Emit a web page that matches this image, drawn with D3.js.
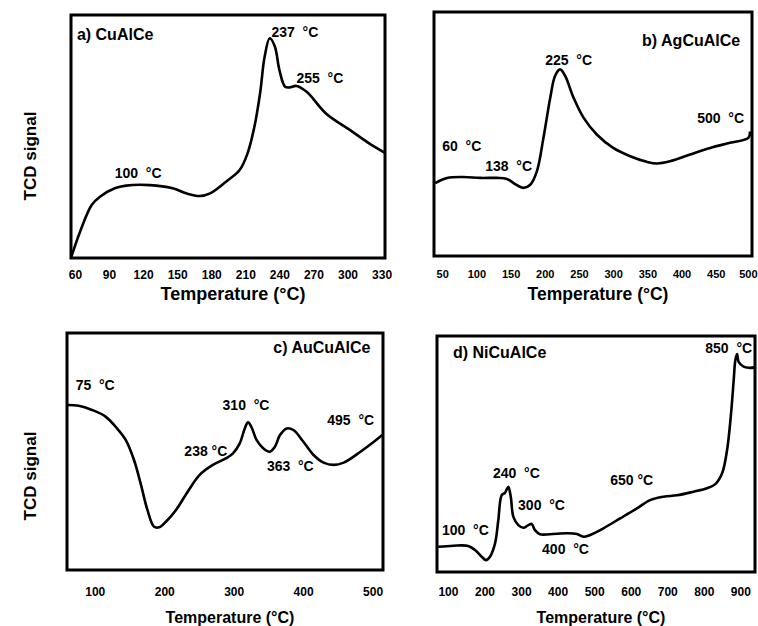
<!DOCTYPE html>
<html>
<head>
<meta charset="utf-8">
<script src="https://cdn.jsdelivr.net/npm/d3@7"></script>
<style>
  body { margin: 0; background: #fff; }
  svg text { font-family: "Liberation Sans", Arial, sans-serif; font-weight: bold; fill: #000; }
</style>
</head>
<body>
<div id="chart"></div>
<script>
// ---- data (temperature in °C, TCD signal in arbitrary units 0-100) ----
const aTemp = [56.5, 64.4, 74.7, 82, 95, 105, 126, 146, 158, 170, 179, 193, 205, 212, 218, 223, 227, 231.5, 236, 240, 245, 249, 255, 264, 281, 302, 319, 333];
const aSignal = [0, 10.7, 21.8, 25.2, 28.7, 29.8, 30.0, 28.7, 26.6, 25.5, 26.6, 31.4, 36.2, 43.1, 54.0, 67.8, 82.8, 90.4, 87.0, 77.4, 70.5, 70.2, 70.8, 68.4, 59.5, 52.7, 47.2, 43.3];
const aTicks = [60, 90, 120, 150, 180, 210, 240, 270, 300, 330];

const bTemp = [39.8, 57, 81, 105.6, 130, 144.6, 156.7, 168.9, 178.7, 188.4, 198, 208, 215, 222.5, 229.8, 242, 256.6, 276, 300, 324.9, 349, 364, 383, 412.6, 441.8, 471, 497.8, 500];
const bSignal = [29.9, 32.0, 32.4, 32.0, 32.0, 31.6, 29.5, 27.9, 29.2, 34.7, 48.4, 64.9, 73.8, 76.5, 73.8, 64.9, 56.7, 49.8, 44.3, 40.9, 38.6, 37.9, 38.8, 41.6, 44.3, 46.4, 48.4, 51];
const bTicks = [50, 100, 150, 200, 250, 300, 350, 400, 450, 500];

const cTemp = [60, 76.8, 96, 115.5, 132, 144.5, 156.5, 166, 175.8, 185.5, 192.8, 202.4, 217, 233.8, 250.7, 270, 289.4, 299, 308.7, 316, 320.7, 325.7, 332.9, 342.5, 352, 359.4, 366.7, 376.4, 386, 400.4, 415, 429.4, 444, 458.4, 482.6, 501.9, 514];
const cSignal = [71.4, 71.1, 69.3, 66.4, 61.3, 56.3, 47.6, 37.5, 26.0, 18.7, 18.5, 20.9, 26.0, 33.9, 41.1, 45.5, 48.4, 50.5, 54.8, 61.3, 63.9, 61.8, 56.3, 52.7, 51.2, 53.4, 58.4, 61.3, 60.6, 55.5, 49.8, 46.5, 45.5, 46.5, 51.2, 55.5, 58.4];
const cTicks = [100, 200, 300, 400, 500];

const dTemp = [73.4, 114.5, 155.6, 174, 192.3, 204, 215, 228.8, 237.8, 247, 256, 265, 271.8, 279, 292.6, 306.3, 320, 329, 338, 352, 379, 425, 452.6, 470.7, 489, 525.5, 571, 617, 653, 690, 726.6, 772, 808.8, 831.5, 850, 863.6, 874.5, 881.7, 886.3, 891, 895.3, 909, 922.7, 940];
const dSignal = [11.0, 11.5, 11.4, 9.6, 6.7, 5.2, 6.7, 12.5, 22.7, 33.6, 34.6, 37.2, 32.9, 24.1, 20.5, 19.3, 20.5, 21.0, 18.3, 16.5, 16.5, 16.9, 16.6, 15.4, 16.2, 19.1, 23.4, 27.8, 31.4, 32.9, 33.5, 35.1, 36.6, 38.4, 43.1, 53.3, 69.3, 83.8, 92.6, 95.2, 91.8, 89.7, 89.2, 89.4];
const dTicks = [100, 200, 300, 400, 500, 600, 700, 800, 900];

// peak labels: text, temperature, signal
const aLabels = [["237  °C", 233, 91], ["255  °C", 255, 72], ["100  °C", 95, 33]];
const bLabels = [["225  °C", 200.6, 78.2], ["500  °C", 422.8, 54.7], ["60  °C", 50, 43.2], ["138  °C", 112.9, 35.0]];
const cLabels = [["75  °C", 72.5, 77.9], ["310  °C", 284, 69.3], ["495  °C", 434.8, 62.8], ["238 °C", 229, 49.4], ["363  °C", 347.8, 42.9]];
const dLabels = [["850  °C", 804, 95.6], ["240  °C", 223, 41], ["650 °C", 544, 38], ["300  °C", 291.8, 27.1], ["100  °C", 83.6, 16.2], ["400  °C", 357.5, 7.9]];

const panelNames = ["a) CuAlCe", "b) AgCuAlCe", "c) AuCuAlCe", "d) NiCuAlCe"];

// ---- layout ----
let width = 758, height = 626;

let svg = d3.select('#chart').append('svg')
    .attr('width', width)
    .attr('height', height);

svg.append('rect').attr('width', width).attr('height', height).attr('fill', '#fff');

let panels = [
  { temp: aTemp, signal: aSignal, ticks: aTicks, labels: aLabels, name: panelNames[0],
    xDomain: [56.5, 333], yMax: 100, box: { x0: 71, x1: 385, y0: 15, y1: 258 },
    title: { t: 61.7, s: 89.7, anchor: 'start' }, tickY: 279, tickSize: 12, axisY: 300, axisSize: 18 },
  { temp: bTemp, signal: bSignal, ticks: bTicks, labels: bLabels, name: panelNames[1],
    xDomain: [38, 503], yMax: 100, box: { x0: 434, x1: 752, y0: 12, y1: 256 },
    title: { t: 485.7, s: 86, anchor: 'end' }, tickY: 278, tickSize: 11, axisY: 300, axisSize: 17.5 },
  { temp: cTemp, signal: cSignal, ticks: cTicks, labels: cLabels, name: panelNames[2],
    xDomain: [60, 515], yMax: 102.6, box: { x0: 67, x1: 383, y0: 333, y1: 570 },
    title: { t: 497, s: 93.9, anchor: 'end' }, tickY: 596, tickSize: 12, axisY: 623, axisSize: 16 },
  { temp: dTemp, signal: dSignal, ticks: dTicks, labels: dLabels, name: panelNames[3],
    xDomain: [70, 940], yMax: 103.1, box: { x0: 437, x1: 755, y0: 336, y1: 572 },
    title: { t: 113.7, s: 93.4, anchor: 'start' }, tickY: 596, tickSize: 12, axisY: 623, axisSize: 16 }
];

panels.forEach((p) => {
    let x = d3.scaleLinear().domain(p.xDomain).range([p.box.x0, p.box.x1]);
    let y = d3.scaleLinear().domain([0, p.yMax]).range([p.box.y1, p.box.y0]);
    let g = svg.append('g');

    // frame
    g.append('rect')
        .attr('x', p.box.x0)
        .attr('y', p.box.y0)
        .attr('width', p.box.x1 - p.box.x0)
        .attr('height', p.box.y1 - p.box.y0)
        .attr('fill', 'none')
        .attr('stroke', '#000')
        .attr('stroke-width', 3);

    // curve
    let pts = p.temp.map((t, i) => [t, p.signal[i]]);
    let line = d3.line()
        .x((d) => x(d[0]))
        .y((d) => y(d[1]))
        .curve(d3.curveCatmullRom.alpha(0.5));
    g.append('path')
        .datum(pts)
        .attr('d', line)
        .attr('fill', 'none')
        .attr('stroke', '#000')
        .attr('stroke-width', 2.6)
        .attr('stroke-linejoin', 'round');

    // tick labels (no tick marks in the original)
    let axis = d3.axisBottom(x).tickValues(p.ticks).tickSize(0).tickPadding(0);
    let ax = g.append('g')
        .attr('transform', `translate(0,${p.tickY})`)
        .call(axis);
    ax.select('.domain').remove();
    ax.selectAll('text')
        .attr('dy', 0)
        .style('font-size', p.tickSize + 'px')
        .style('font-family', '"Liberation Sans", Arial, sans-serif')
        .style('font-weight', 'bold')
        .attr('fill', '#000');
    // keep the last label inside the page
    ax.selectAll('text')
        .filter((d) => x(d) > width - 12)
        .attr('text-anchor', 'end')
        .attr('x', (d) => width - 1 - x(d));

    // axis title
    g.append('text')
        .attr('x', (p.box.x0 + p.box.x1) / 2 + 5)
        .attr('y', p.axisY)
        .attr('text-anchor', 'middle')
        .style('font-size', p.axisSize + 'px')
        .text('Temperature (°C)');

    // panel name
    g.append('text')
        .attr('x', x(p.title.t))
        .attr('y', y(p.title.s))
        .attr('text-anchor', p.title.anchor)
        .style('font-size', '16px')
        .text(p.name);

    // peak labels
    g.selectAll('text.peak')
        .data(p.labels)
        .enter().append('text')
        .attr('class', 'peak')
        .attr('x', (d) => x(d[1]))
        .attr('y', (d) => y(d[2]))
        .style('font-size', '14px')
        .style('white-space', 'pre')
        .text((d) => d[0]);
});

// y axis titles
[156, 476].forEach((cy) => {
    svg.append('text')
        .attr('transform', `translate(36,${cy}) rotate(-90)`)
        .attr('text-anchor', 'middle')
        .style('font-size', '17px')
        .text('TCD signal');
});
</script>
</body>
</html>
